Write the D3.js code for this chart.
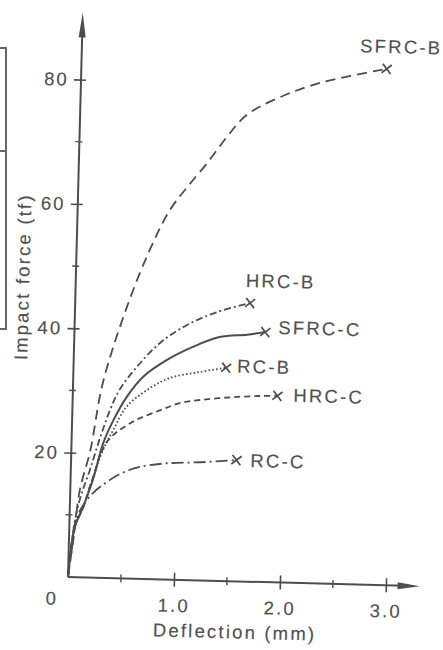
<!DOCTYPE html>
<html>
<head>
<meta charset="utf-8">
<script src="https://cdn.jsdelivr.net/npm/d3@7"></script>
<style>
  body { margin: 0; background: #fff; }
  svg { display: block; }
  text { font-family: "Liberation Sans", Arial, sans-serif; fill: #505050; stroke: #505050; stroke-width: 0.15px; font-size: 18.5px; letter-spacing: 2.2px; }
</style>
</head>
<body>
<svg id="chart" width="443" height="650"></svg>
<script>
// values (deflection in mm, impact force in tf)
const seriesNames = ["SFRC-B", "HRC-B", "SFRC-C", "RC-B", "HRC-C", "RC-C"];

const sfrcBx = [0, 0.04, 0.09, 0.18, 0.28, 0.49, 0.69, 0.87, 1.03, 1.21, 1.39, 1.57, 1.88, 2.26, 2.88];
const sfrcBy = [0, 6, 14, 20.5, 31.3, 43.7, 52.9, 59.4, 63.2, 67.1, 71.4, 75.0, 78.0, 80.5, 83.0];

const hrcBx = [0, 0.05, 0.1, 0.18, 0.27, 0.355, 0.44, 0.6, 0.81, 1.06, 1.34, 1.65];
const hrcBy = [0, 9, 13, 17.3, 22.6, 27.0, 30.3, 34.1, 38.0, 41.0, 43.2, 44.8];

const sfrcCx = [0, 0.05, 0.125, 0.21, 0.30, 0.39, 0.51, 0.66, 0.88, 1.12, 1.37, 1.63, 1.80];
const sfrcCy = [0, 8, 11.3, 15.7, 21.7, 25.4, 29.2, 32.5, 35.3, 37.5, 39.2, 39.7, 40.2];

const rcBx = [0, 0.05, 0.12, 0.2, 0.30, 0.39, 0.51, 0.70, 0.91, 1.19, 1.44];
const rcBy = [0, 8, 11, 15.5, 20.6, 23.8, 27.6, 30.4, 32.4, 33.5, 34.3];

const hrcCx = [0, 0.05, 0.12, 0.2, 0.335, 0.57, 0.83, 1.01, 1.20, 1.51, 1.77, 1.93];
const hrcCy = [0, 8, 11, 15.5, 21.9, 25.2, 27.2, 28.4, 29.0, 29.6, 29.9, 30.0];

const rcCx = [0, 0.04, 0.07, 0.125, 0.215, 0.34, 0.49, 0.65, 0.91, 1.22, 1.56];
const rcCy = [0, 6, 9.6, 11.6, 13.6, 15.4, 17.0, 18.0, 18.7, 19.0, 19.5];

const xMajorTicks = [1, 2, 3];
const xMinorTicks = [0.5, 1.5, 2.5];
const yMajorTicks = [20, 40, 60, 80];
const yMinorTicks = [10, 30, 50, 70];

const xs = [sfrcBx, hrcBx, sfrcCx, rcBx, hrcCx, rcCx];
const ys = [sfrcBy, hrcBy, sfrcCy, rcBy, hrcCy, rcCy];

// line styles and label placement
const dashes = ["10,6", "7,3,2,3", null, "1.6,2.2", "6,4", "12,4,2,4"];
const labelPos = {
  "SFRC-B": [14, -16, "middle", "auto"],
  "HRC-B":  [30, -16, "middle", "auto"],
  "SFRC-C": [13, -5, "start", "central"],
  "RC-B":   [11, -2, "start", "central"],
  "HRC-C":  [16, -1, "start", "central"],
  "RC-C":   [14, 0, "start", "central"]
};

const ink = "#4d4d4d";
const svg = d3.select("#chart");

// edge of the neighbouring table, cut off by the scan
svg.append("path")
  .attr("d", "M0,48H6V329H0M0,151H6")
  .attr("fill", "none").attr("stroke", "#666").attr("stroke-width", 2);

// the scan is slightly tilted, so the whole chart sits in a rotated group
const g = svg.append("g").attr("transform", "translate(68,577) rotate(1.5)");

const x = d3.scaleLinear().domain([0, 3]).range([0, 318]);
const y = d3.scaleLinear().domain([0, 80]).range([0, -497.6]);

// axes with arrow heads
g.append("line").attr("x1", 0).attr("y1", 0).attr("x2", 0).attr("y2", y(87.5))
  .attr("stroke", ink).attr("stroke-width", 2);
g.append("path").attr("d", `M0,${y(90.8)}L-3.5,${y(86.8)}L3.5,${y(86.8)}Z`).attr("fill", ink);
g.append("line").attr("x1", 0).attr("y1", 0).attr("x2", x(3.17)).attr("y2", 0)
  .attr("stroke", ink).attr("stroke-width", 2);
g.append("path").attr("d", `M${x(3.32)},0L${x(3.11)},-3.5L${x(3.11)},3.5Z`).attr("fill", ink);

const xAxis = g.append("g")
  .call(d3.axisBottom(x).tickValues(xMajorTicks).tickSizeInner(7).tickSizeOuter(0).tickPadding(12).tickFormat(d3.format(".1f")));
xAxis.select(".domain").remove();
xAxis.selectAll(".tick line").attr("y1", -7).attr("stroke", ink).attr("stroke-width", 1.6);
xAxis.selectAll("text").attr("fill", null);
xAxis.attr("font-size", null).attr("font-family", null);

g.append("g").selectAll("line").data(xMinorTicks).join("line")
  .attr("x1", d => x(d)).attr("x2", d => x(d)).attr("y1", -4).attr("y2", 4)
  .attr("stroke", ink).attr("stroke-width", 1.4);

const yAxis = g.append("g")
  .call(d3.axisLeft(y).tickValues(yMajorTicks).tickSizeInner(7).tickSizeOuter(0).tickPadding(5));
yAxis.select(".domain").remove();
yAxis.selectAll(".tick line").attr("x1", 5).attr("stroke", ink).attr("stroke-width", 1.6);
yAxis.selectAll("text").attr("fill", null);
yAxis.attr("font-size", null).attr("font-family", null);

g.append("g").selectAll("line").data(yMinorTicks).join("line")
  .attr("y1", d => y(d)).attr("y2", d => y(d)).attr("x1", -4).attr("x2", 3)
  .attr("stroke", ink).attr("stroke-width", 1.4);

g.append("text").attr("x", -15.5).attr("y", 28).attr("text-anchor", "middle").text("0");

// axis titles
g.append("text").attr("x", 168).attr("y", 57).attr("text-anchor", "middle").text("Deflection (mm)");
g.append("text").attr("transform", "translate(-53,-299) rotate(-90)")
  .attr("text-anchor", "middle").attr("dominant-baseline", "central").text("Impact force (tf)");

// curves
const line = d3.line().x(d => x(d[0])).y(d => y(d[1])).curve(d3.curveCatmullRom.alpha(0.5));

seriesNames.forEach((name, i) => {
  const pts = xs[i].map((v, j) => [v, ys[i][j]]);
  g.append("path").datum(pts)
    .attr("d", line)
    .attr("fill", "none")
    .attr("stroke", ink)
    .attr("stroke-width", i === 2 ? 2 : 1.8)
    .attr("stroke-dasharray", dashes[i]);

  const last = pts[pts.length - 1];
  const mx = x(last[0]), my = y(last[1]);
  g.append("path")
    .attr("d", `M${mx - 4},${my - 5}L${mx + 4},${my + 5}M${mx - 5},${my + 4}L${mx + 5},${my - 4}`)
    .attr("stroke", ink).attr("stroke-width", 1.7).attr("fill", "none");

  const p = labelPos[name];
  g.append("text")
    .attr("x", mx + p[0]).attr("y", my + p[1])
    .attr("text-anchor", p[2])
    .attr("dominant-baseline", p[3])
    .text(name);
});
</script>
</body>
</html>
